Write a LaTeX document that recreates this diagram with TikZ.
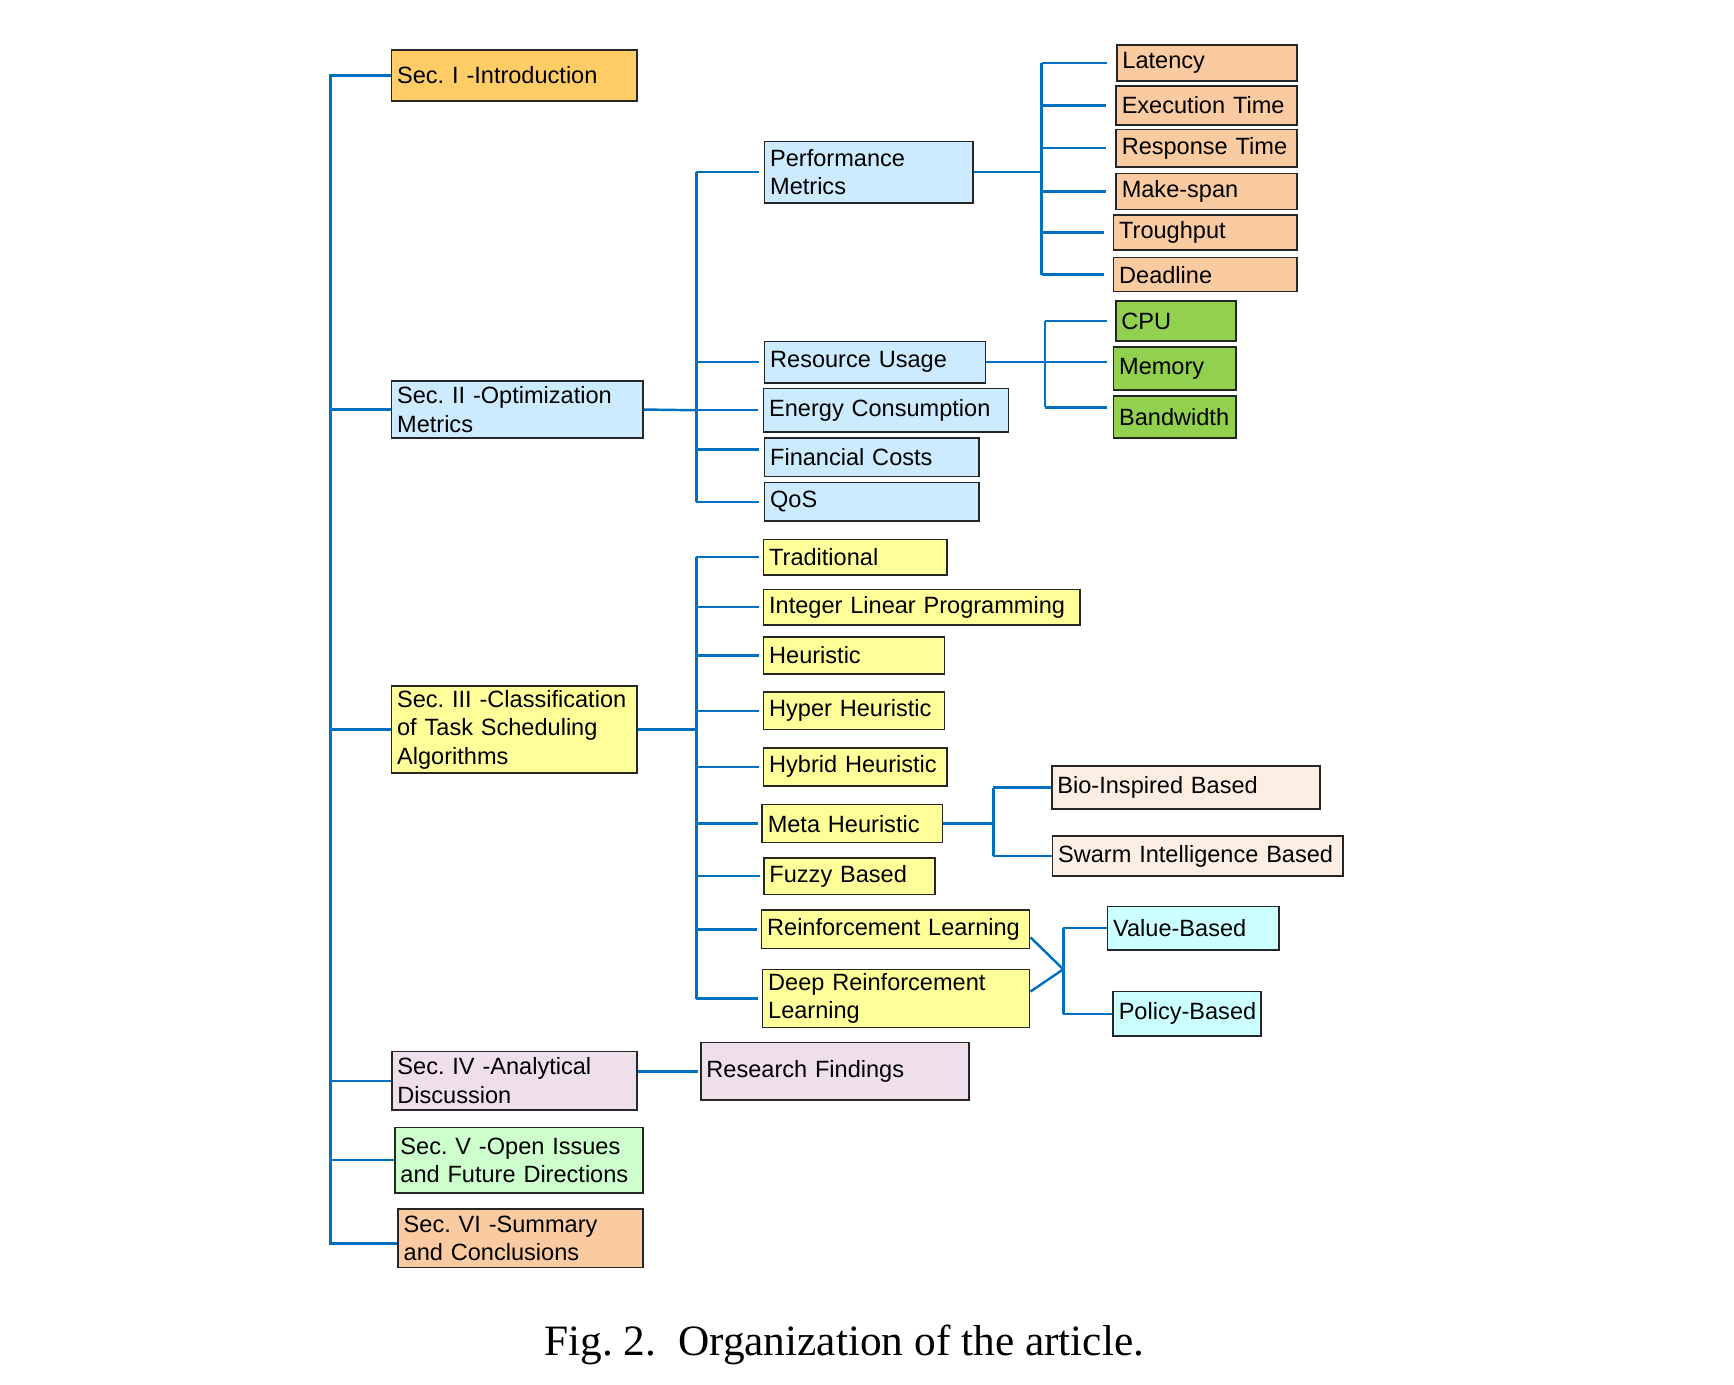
\documentclass[tikz,border=0pt]{standalone}
\usepackage{fontspec}
\setmainfont{Liberation Sans}
\newfontfamily\capfont{Liberation Serif}
\frenchspacing
\definecolor{cLine}{HTML}{0070C0}
\definecolor{cSecI}{HTML}{FFCC66}
\definecolor{cBlueBox}{HTML}{CCEBFF}
\definecolor{cPeach}{HTML}{FACBA0}
\definecolor{cGreen}{HTML}{92D050}
\definecolor{cYellow}{HTML}{FFFF99}
\definecolor{cBio}{HTML}{FDEEE3}
\definecolor{cCyan}{HTML}{CCFFFF}
\definecolor{cPink}{HTML}{EEDFEA}
\definecolor{cSecV}{HTML}{CCFFCC}
\tikzset{
  bx/.style={draw=black!85, line width=0.8pt, rectangle, anchor=north west,
    inner xsep=2.5pt, inner ysep=0pt, align=left,
    font=\fontsize{10.6}{12.8}\selectfont\frenchspacing},
  conn/.style={draw=cLine, line width=1.1pt},
}
\newcommand{\mkbox}[7]{%
  \pgfmathsetmacro{\bw}{((#4)-(#2))*0.45-5}%
  \pgfmathsetmacro{\bh}{((#5)-(#3))*0.45}%
  \node[bx, fill=#6, text width=\bw pt, minimum height=\bh pt] (#1) at (#2,#3) {#7};%
}
\begin{document}
\begin{tikzpicture}[x=0.45pt,y=-0.45pt]
\useasboundingbox (0,0) rectangle (1734,1384);
% sections
\mkbox{s1}{390.7}{49.3}{636}{100}{cSecI}{\mbox{Sec. I -Introduction}}
\mkbox{s2}{390.7}{380}{642}{437.3}{cBlueBox}{Sec. II -Optimization\\Metrics}
\mkbox{s3}{390.7}{685}{636}{772.3}{cYellow}{Sec. III -Classification\\of Task Scheduling\\Algorithms}
\mkbox{s4}{391}{1050.7}{636}{1109}{cPink}{Sec. IV -Analytical\\Discussion}
\mkbox{s5}{394}{1126.7}{642}{1192}{cSecV}{Sec. V -Open Issues\\and Future Directions}
\mkbox{s6}{397.3}{1208.3}{642}{1266.7}{cPeach}{Sec. VI -Summary\\and Conclusions}
% column 2
\mkbox{pm}{763.7}{140.7}{972.3}{202}{cBlueBox}{Performance\\Metrics}
\mkbox{ru}{763.7}{340.7}{984.7}{382}{cBlueBox}{\mbox{Resource Usage}}
\mkbox{en}{762.7}{387.7}{1007.7}{431}{cBlueBox}{\mbox{Energy Consumption}}
\mkbox{fc}{763.7}{437}{978.3}{475.7}{cBlueBox}{\mbox{Financial Costs}}
\mkbox{qos}{763.7}{481.7}{978.3}{520.3}{cBlueBox}{\mbox{QoS}}
% performance leaves
\mkbox{lat}{1116}{44.3}{1296}{80}{cPeach}{\mbox{Latency}}
\mkbox{ext}{1115.3}{85}{1296}{124}{cPeach}{\mbox{Execution Time}}
\mkbox{rt}{1115.3}{128.7}{1296}{166}{cPeach}{\mbox{Response Time}}
\mkbox{ms}{1115.3}{172.7}{1296}{208.7}{cPeach}{\mbox{Make-span}}
\mkbox{tp}{1112.7}{214.3}{1296}{249.3}{cPeach}{\mbox{Troughput}}
\mkbox{dl}{1112.7}{256.7}{1296}{290.7}{cPeach}{\mbox{Deadline}}
% resource leaves
\mkbox{cpu}{1115}{300}{1235.3}{340}{cGreen}{\mbox{CPU}}
\mkbox{mem}{1112.7}{346}{1235.3}{389.3}{cGreen}{\mbox{Memory}}
\mkbox{bw}{1112.7}{395}{1235.3}{437.3}{cGreen}{\mbox{Bandwidth}}
% column 3
\mkbox{trad}{762.7}{538.7}{946.3}{574}{cYellow}{\mbox{Traditional}}
\mkbox{ilp}{762.7}{588.7}{1079.3}{624}{cYellow}{\mbox{Integer Linear Programming}}
\mkbox{heu}{762.7}{636}{943.7}{673}{cYellow}{\mbox{Heuristic}}
\mkbox{hyp}{762.7}{691}{943.7}{728.7}{cYellow}{\mbox{Hyper Heuristic}}
\mkbox{hyb}{762.7}{747}{946.3}{785}{cYellow}{\mbox{Hybrid Heuristic}}
\mkbox{meta}{761.3}{803.7}{941.7}{841.7}{cYellow}{\mbox{Meta Heuristic}}
\mkbox{fuz}{763}{857}{934.3}{893.7}{cYellow}{\mbox{Fuzzy Based}}
\mkbox{rl}{760.7}{909.3}{1028.7}{947.7}{cYellow}{\mbox{Reinforcement Learning}}
\mkbox{drl}{761.7}{968.7}{1028.7}{1026.7}{cYellow}{Deep Reinforcement\\Learning}
% meta leaves
\mkbox{bio}{1051}{765.3}{1319}{808}{cBio}{\mbox{Bio-Inspired Based}}
\mkbox{sw}{1051.7}{835.3}{1342}{875}{cBio}{\mbox{Swarm Intelligence Based}}
% RL leaves
\mkbox{val}{1106.7}{905.7}{1278}{949}{cCyan}{\mbox{Value-Based}}
\mkbox{pol}{1112.3}{990.7}{1260}{1035}{cCyan}{\mbox{Policy-Based}}
% research findings
\mkbox{rf}{700}{1041.7}{968}{1099.3}{cPink}{\mbox{Research Findings}}
% bus coordinates
\coordinate (trunk) at (330.7,0);
\coordinate (bus2) at (696.3,0);
\coordinate (bus3) at (696.3,0);
\coordinate (pbus) at (1041.7,0);
\coordinate (rbus) at (1045,0);
\coordinate (mbus) at (993.3,0);
\coordinate (vj) at (1063.3,969.3);
\coordinate (s6c) at ([yshift=-2.2pt]s6.west);
\coordinate (fcc) at ([yshift=3.4pt]fc.west);
\coordinate (bwc) at ([yshift=4.3pt]bw.west);
\coordinate (memc) at (mem.west |- ru.east);
% trunk
\draw[conn] (s1.west) -- (s1.west -| trunk) -- (s6c -| trunk) -- (s6c);
\foreach \n in {s2,s3,s4,s5} \draw[conn] (\n.west -| trunk) -- (\n.west);
% column 2
\draw[conn] (s2.east) -- (en.west -| bus2);
\draw[conn] (pm.west -| bus2) -- (qos.west -| bus2);
\foreach \n in {pm,ru,en,qos} \draw[conn, shorten >=2pt] (\n.west -| bus2) -- (\n.west);
\draw[conn, shorten >=2pt] (fcc -| bus2) -- (fcc);
% performance
\draw[conn] (pm.east) -- (pm.east -| pbus);
\draw[conn] (lat.west -| pbus) -- (dl.west -| pbus);
\foreach \n in {lat,ext,rt,ms,tp,dl} \draw[conn, shorten >=4pt] (\n.west -| pbus) -- (\n.west);
% resource
\draw[conn] (ru.east) -- (ru.east -| rbus);
\draw[conn] (cpu.west -| rbus) -- (bwc -| rbus);
\draw[conn, shorten >=3.5pt] (cpu.west -| rbus) -- (cpu.west);
\draw[conn, shorten >=2.5pt] (memc -| rbus) -- (memc);
\draw[conn, shorten >=2.5pt] (bwc -| rbus) -- (bwc);
% column 3
\draw[conn] (s3.east) -- (s3.east -| bus3);
\draw[conn] (trad.west -| bus3) -- (drl.west -| bus3);
\foreach \n in {trad,ilp,heu,hyp,hyb,meta,fuz,rl,drl} \draw[conn, shorten >=1.5pt] (\n.west -| bus3) -- (\n.west);
% meta heuristic
\draw[conn] (meta.east) -- (meta.east -| mbus);
\draw[conn] (bio.west -| mbus) -- (sw.west -| mbus);
\draw[conn] (bio.west -| mbus) -- (bio.west);
\draw[conn] (sw.west -| mbus) -- (sw.west);
% RL
\draw[conn] ([yshift=-3.6pt]rl.east) -- (vj) -- ([yshift=3.2pt]drl.east);
\draw[conn] (val.west -| vj) -- (pol.west -| vj);
\draw[conn] (val.west -| vj) -- (val.west);
\draw[conn] (pol.west -| vj) -- (pol.west);
% research findings
\draw[conn, shorten >=1pt] (rf.west -| s4.east) -- (rf.west);
% caption
\node[anchor=base, inner sep=0pt, font=\capfont\fontsize{19.5}{23}\selectfont] (cap) at (844.3,1355) {Fig. 2.\ \ Organization of the article.};
\end{tikzpicture}
\end{document}
